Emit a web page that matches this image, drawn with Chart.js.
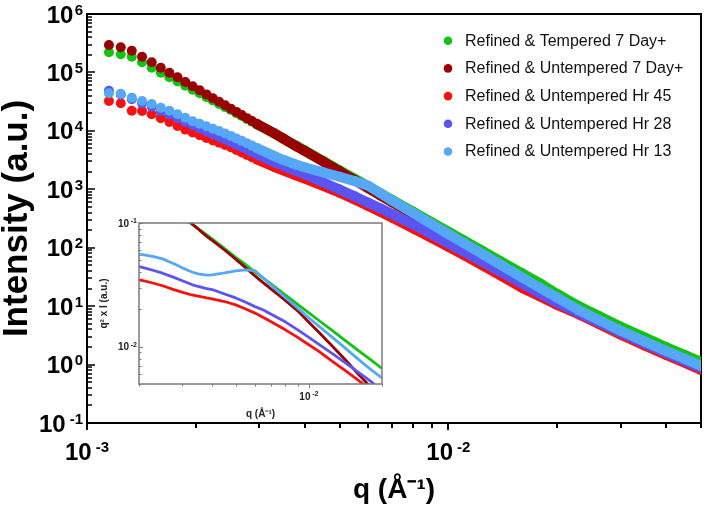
<!DOCTYPE html>
<html>
<head>
<meta charset="utf-8">
<script src="https://cdn.jsdelivr.net/npm/chart.js@4.4.1/dist/chart.umd.min.js"></script>
<style>
  html, body { margin: 0; padding: 0; background: #ffffff; }
  #wrap { position: relative; width: 708px; height: 506px; overflow: hidden; }
  #main { position: absolute; left: 0; top: 0; }
  #inset { position: absolute; left: 97px; top: 213px; }
</style>
</head>
<body>
<div id="wrap">
  <canvas id="main" width="708" height="506"></canvas>
  <canvas id="inset" width="292" height="210"></canvas>
</div>
<script>
// ---------------- DATA ----------------
const seriesNames = [
  'Refined & Tempered 7 Day+',
  'Refined & Untempered 7 Day+',
  'Refined & Untempered Hr 45',
  'Refined & Untempered Hr 28',
  'Refined & Untempered Hr 13'
];
const seriesColors = ['#12c312', '#990000', '#f71212', '#5a54f0', '#56a8f6'];

// main plot: q (1/A)
const qMain = [0.00115, 0.00124, 0.00133, 0.00142, 0.00151, 0.0016, 0.00169, 0.00178, 0.00187, 0.00196,
  0.00205, 0.00214, 0.00223, 0.00232, 0.00241, 0.0025, 0.00259, 0.00268, 0.00277, 0.00286, 0.00295,
  0.0033, 0.0035, 0.0038, 0.004, 0.0045, 0.005, 0.0055, 0.006, 0.0065, 0.007, 0.008, 0.009, 0.01,
  0.011, 0.0125, 0.014, 0.016, 0.018, 0.02, 0.023, 0.026, 0.03, 0.035, 0.04, 0.045, 0.05];

// main plot: intensity (a.u.)
const iTempered7Day = [221000, 204000, 186000, 149000, 120500, 98900, 82500, 70000, 59000, 50600,
  43900, 37800, 33000, 28900, 25500, 22700, 20100, 17900, 16000, 14400, 12900,
  9070, 7370, 5540, 4640, 3070, 2110, 1520, 1120, 850, 655, 411, 272, 188,
  135, 86.4, 58.1, 36.4, 24.2, 16.2, 9.95, 6.85, 4.45, 2.9, 2.0, 1.47, 1.11];
const iUntempered7Day = [294000, 269000, 235000, 186000, 149000, 120500, 98900, 82500, 68600, 57900,
  49500, 42100, 36200, 31400, 27400, 24000, 21100, 18700, 16500, 14700, 13200,
  9020, 7310, 5400, 4525, 2990, 2036, 1435, 1039, 776, 596, 370, 241, 157,
  107, 62.8, 40.5, 26.0, 17.5, 12.3, 8.0, 5.5, 3.6, 2.35, 1.63, 1.2, 0.9];
const iUntemperedHr45 = [32400, 29600, 22100, 21900, 19200, 16400, 14200, 12100, 10500, 9370,
  8390, 7550, 6850, 6250, 5730, 5250, 4700, 4260, 3860, 3530, 3240,
  2406, 2090, 1717, 1525, 1146, 872, 668, 519, 407, 324, 214, 147, 104,
  75.8, 48.8, 32.9, 20.5, 14.5, 10.5, 7.2, 5.0, 3.25, 2.11, 1.46, 1.08, 0.81];
const iUntemperedHr28 = [48600, 41900, 34700, 29600, 25800, 21900, 19100, 16400, 14200, 12500,
  11000, 9750, 8730, 7850, 7080, 6390, 5770, 5250, 4780, 4350, 3990,
  2920, 2506, 2043, 1813, 1319, 992, 757, 586, 469, 373, 248, 169, 119,
  86.3, 56.3, 38.4, 24.3, 16.2, 11.4, 7.6, 5.3, 3.5, 2.28, 1.58, 1.16, 0.88];
const iUntemperedHr13 = [44000, 43100, 37000, 32500, 28800, 24900, 22100, 19200, 16800, 14600,
  13200, 12000, 10900, 9950, 9000, 8200, 7430, 6740, 6140, 5590, 5090,
  3691, 3167, 2625, 2381, 1951, 1640, 1382, 1147, 847, 639, 391, 253, 171,
  121.5, 76.2, 50.4, 30.9, 20.2, 14.0, 8.5, 5.84, 3.80, 2.47, 1.71, 1.26, 0.95];

// inset: q (1/A) and q^2 x I (a.u.)
const qInset = [0.002, 0.0021, 0.0023, 0.0025, 0.0028, 0.003, 0.0033, 0.0035, 0.0038, 0.004, 0.0045,
  0.005, 0.0055, 0.006, 0.0065, 0.007, 0.008, 0.009, 0.01, 0.011, 0.0125, 0.014, 0.016, 0.018, 0.02];
const q2iTempered7Day = [null, null, null, null, 0.1265, 0.1142, 0.0988, 0.0903, 0.080, 0.0743, 0.0621,
  0.0528, 0.0460, 0.0403, 0.0359, 0.0321, 0.0263, 0.0220, 0.0188, 0.0163, 0.0135, 0.01138, 0.00931, 0.00783, 0.00668];
const q2iUntempered7Day = [null, null, null, null, 0.123, 0.1125, 0.0982, 0.0895, 0.078, 0.0724, 0.0605,
  0.0509, 0.0434, 0.0374, 0.0328, 0.0292, 0.0237, 0.0195, 0.0158, 0.0131, 0.0101, 0.0080, 0.0060, 0.0047, 0.0038];
const q2iUntemperedHr45 = [0.0347, 0.0340, 0.0326, 0.0311, 0.0288, 0.0276, 0.0262, 0.0256, 0.0248, 0.0244, 0.0232,
  0.0218, 0.0202, 0.0187, 0.0172, 0.0159, 0.0137, 0.0119, 0.01038, 0.00917, 0.00762, 0.00650, 0.00535, 0.00446, 0.00384];
const q2iUntemperedHr28 = [0.0445, 0.0434, 0.0413, 0.0393, 0.0362, 0.0343, 0.0318, 0.0307, 0.0295, 0.0290, 0.0267,
  0.0248, 0.0229, 0.0211, 0.0198, 0.0183, 0.0159, 0.0137, 0.0119, 0.01044, 0.00879, 0.00752, 0.00621, 0.00525, 0.00436];
const q2iUntemperedHr13 = [0.0558, 0.0552, 0.0535, 0.0513, 0.0467, 0.0436, 0.0402, 0.0388, 0.0379, 0.0381, 0.0395,
  0.0410, 0.0418, 0.0413, 0.0358, 0.0313, 0.0250, 0.0205, 0.0171, 0.0147, 0.0119, 0.00988, 0.00791, 0.00653, 0.00559];

// tick labels (powers of ten)
const mainYTicks = [0.1, 1, 10, 100, 1000, 10000, 100000, 1000000];
const mainYTickExp = ['-1', '0', '1', '2', '3', '4', '5', '6'];
const mainXTicks = [0.001, 0.01];
const mainXTickExp = ['-3', '-2'];
const insetYTicks = [0.1, 0.01];
const insetYTickExp = ['-1', '-2'];
const insetXTicks = [0.01];
const insetXTickExp = ['-2'];

// ---------------- STYLE ----------------
const FONT = '"Liberation Sans", Arial, Helvetica, sans-serif';
Chart.defaults.font.family = FONT;
const mainValues = [iTempered7Day, iUntempered7Day, iUntemperedHr45, iUntemperedHr28, iUntemperedHr13];
const insetValues = [q2iTempered7Day, q2iUntempered7Day, q2iUntemperedHr45, q2iUntemperedHr28, q2iUntemperedHr13];
const drawOrder = [5, 4, 3, 2, 1];
const dotLimit = 0.0029; // below this q the markers are drawn as separate dots

function powLabel(ctx, exp, x, baseline, align, big, small, rise, color) {
  const gap = exp.charAt(0) === '-' ? big * 0.17 : big * 0.05;
  ctx.font = 'bold ' + big + 'px ' + FONT;
  const w1 = ctx.measureText('10').width;
  ctx.font = 'bold ' + small + 'px ' + FONT;
  const w2 = ctx.measureText(exp).width;
  const total = w1 + gap + w2;
  let x0 = x;
  if (align === 'right') x0 = x - total;
  else if (align === 'center') x0 = x - total / 2;
  ctx.fillStyle = color;
  ctx.textAlign = 'left';
  ctx.textBaseline = 'alphabetic';
  ctx.font = 'bold ' + big + 'px ' + FONT;
  ctx.fillText('10', x0, baseline);
  ctx.font = 'bold ' + small + 'px ' + FONT;
  ctx.fillText(exp, x0 + w1 + gap, baseline - rise);
}

function logTickList(min, max) {
  const out = [];
  for (let e = Math.floor(Math.log10(min)) - 1; e <= Math.ceil(Math.log10(max)); e++) {
    for (let m = 1; m <= 9; m++) {
      const v = m * Math.pow(10, e);
      if (v >= min * 0.9999 && v <= max * 1.0001) out.push({ v: v, major: m === 1 });
    }
  }
  return out;
}

const mainAxesPlugin = {
  id: 'mainAxes',
  beforeDatasetsDraw(chart) {
    const { ctx, chartArea: a, scales: { x, y } } = chart;
    ctx.save();
    ctx.strokeStyle = '#000';
    ctx.lineWidth = 2;
    ctx.strokeRect(a.left, a.top, a.right - a.left, a.bottom - a.top);
    ctx.beginPath();
    logTickList(y.min, y.max).forEach(t => {
      const py = Math.round(y.getPixelForValue(t.v));
      ctx.moveTo(a.left, py);
      ctx.lineTo(a.left + (t.major ? 8 : 5), py);
    });
    ctx.lineWidth = 1.6;
    ctx.stroke();
    ctx.beginPath();
    logTickList(x.min, x.max).forEach(t => {
      const px = Math.round(x.getPixelForValue(t.v));
      ctx.moveTo(px, a.bottom);
      ctx.lineTo(px, a.bottom + (t.major ? 7 : 5));
    });
    ctx.lineWidth = 2;
    ctx.stroke();
    ctx.restore();
  },
  afterDraw(chart) {
    const { ctx, chartArea: a, scales: { x, y } } = chart;
    ctx.save();
    mainYTicks.forEach((v, i) => {
      const py = y.getPixelForValue(v);
      powLabel(ctx, mainYTickExp[i], a.left - 4, py + 8.6, 'right', 24, 15, 8, '#000');
    });
    mainXTicks.forEach((v, i) => {
      const px = x.getPixelForValue(v);
      powLabel(ctx, mainXTickExp[i], px, a.bottom + 36.5, 'center', 24, 15, 8, '#000');
    });
    // legend
    seriesNames.forEach((name, i) => {
      const cy = 40.7 + 27.7 * i;
      ctx.beginPath();
      ctx.arc(448, cy, 4.3, 0, Math.PI * 2);
      ctx.fillStyle = seriesColors[i];
      ctx.fill();
      ctx.font = '16px ' + FONT;
      ctx.fillStyle = '#111';
      ctx.textAlign = 'left';
      ctx.textBaseline = 'middle';
      ctx.fillText(name, 465, cy + 0.5);
    });
    ctx.restore();
  }
};

const insetAxesPlugin = {
  id: 'insetAxes',
  beforeDatasetsDraw(chart) {
    const { ctx, chartArea: a } = chart;
    ctx.save();
    ctx.fillStyle = '#ffffff';
    ctx.fillRect(a.left, a.top, a.right - a.left, a.bottom - a.top);
    ctx.restore();
  },
  afterDatasetsDraw(chart) {
    const { ctx, chartArea: a, scales: { x, y } } = chart;
    ctx.save();
    ctx.strokeStyle = '#7a7a7a';
    ctx.lineWidth = 1.5;
    ctx.strokeRect(a.left, a.top, a.right - a.left, a.bottom - a.top);
    ctx.beginPath();
    logTickList(y.min, y.max).forEach(t => {
      const py = Math.round(y.getPixelForValue(t.v)) + 0.5;
      ctx.moveTo(a.left, py);
      ctx.lineTo(a.left + (t.major ? 4 : 2.5), py);
    });
    logTickList(x.min, x.max).forEach(t => {
      const px = Math.round(x.getPixelForValue(t.v)) + 0.5;
      ctx.moveTo(px, a.bottom);
      ctx.lineTo(px, a.bottom + (t.major ? 4 : 2.5));
    });
    ctx.lineWidth = 1;
    ctx.stroke();
    insetYTicks.forEach((v, i) => {
      const py = y.getPixelForValue(v);
      powLabel(ctx, insetYTickExp[i], a.left - 2, py + 3.6, 'right', 10, 7, 3.8, '#222');
    });
    insetXTicks.forEach((v, i) => {
      const px = x.getPixelForValue(v);
      powLabel(ctx, insetXTickExp[i], px, a.bottom + 16, 'center', 10, 7, 3.8, '#222');
    });
    ctx.restore();
  }
};

// ---------------- MAIN CHART ----------------
const mainDatasets = seriesNames.map((name, i) => ({
  label: name,
  data: qMain.map((q, k) => ({ x: q, y: mainValues[i][k] })),
  showLine: true,
  borderColor: seriesColors[i],
  backgroundColor: seriesColors[i],
  borderWidth: 10,
  borderJoinStyle: 'round',
  borderCapStyle: 'round',
  pointRadius: 5,
  pointHoverRadius: 5,
  pointBorderWidth: 0,
  order: drawOrder[i],
  segment: {
    borderColor: c => (c.p0.parsed.x < dotLimit ? 'rgba(0,0,0,0)' : undefined)
  }
}));

new Chart(document.getElementById('main'), {
  type: 'scatter',
  data: { datasets: mainDatasets },
  options: {
    responsive: false,
    animation: false,
    devicePixelRatio: 1,
    events: [],
    layout: { padding: { top: 14, right: 7, left: 0, bottom: 0 } },
    plugins: { legend: { display: false }, tooltip: { enabled: false } },
    scales: {
      x: {
        type: 'logarithmic', min: 0.001, max: 0.05,
        grid: { display: false }, border: { display: false }, ticks: { display: false },
        title: { display: true, text: 'q (Å⁻¹)', color: '#000',
          font: { family: FONT, size: 28, weight: 'bold', lineHeight: 1 }, padding: { top: 0, bottom: 2 } },
        afterFit: s => { s.height = 83; }
      },
      y: {
        type: 'logarithmic', min: 0.1, max: 1000000,
        grid: { display: false }, border: { display: false }, ticks: { display: false },
        title: { display: true, text: 'Intensity (a.u.)', color: '#000',
          font: { family: FONT, size: 35, weight: 'bold', lineHeight: 1 }, padding: { top: 0, bottom: 0 } },
        afterFit: s => { s.width = 87; }
      }
    }
  },
  plugins: [mainAxesPlugin]
});

// ---------------- INSET CHART ----------------
const insetDatasets = seriesNames.map((name, i) => ({
  label: name,
  data: qInset.map((q, k) => ({ x: q, y: insetValues[i][k] })).filter(p => p.y !== null),
  showLine: true,
  borderColor: seriesColors[i],
  backgroundColor: seriesColors[i],
  borderWidth: 2.8,
  borderJoinStyle: 'round',
  pointRadius: 0,
  order: drawOrder[i]
}));

new Chart(document.getElementById('inset'), {
  type: 'scatter',
  data: { datasets: insetDatasets },
  options: {
    responsive: false,
    animation: false,
    devicePixelRatio: 1,
    events: [],
    layout: { padding: { top: 10, right: 7, left: 0, bottom: 0 } },
    plugins: { legend: { display: false }, tooltip: { enabled: false } },
    scales: {
      x: {
        type: 'logarithmic', min: 0.002, max: 0.02,
        grid: { display: false }, border: { display: false }, ticks: { display: false },
        title: { display: true, text: 'q (Å⁻¹)', color: '#222',
          font: { family: FONT, size: 10, weight: 'bold', lineHeight: 1 }, padding: { top: 0, bottom: 4 } },
        afterFit: s => { s.height = 39; }
      },
      y: {
        type: 'logarithmic', min: 0.005, max: 0.1,
        grid: { display: false }, border: { display: false }, ticks: { display: false },
        title: { display: true, text: 'q² x I (a.u.)', color: '#222',
          font: { family: FONT, size: 10, weight: 'bold', lineHeight: 1 }, padding: { top: 2, bottom: 0 } },
        afterFit: s => { s.width = 42; }
      }
    }
  },
  plugins: [insetAxesPlugin]
});
</script>
</body>
</html>
